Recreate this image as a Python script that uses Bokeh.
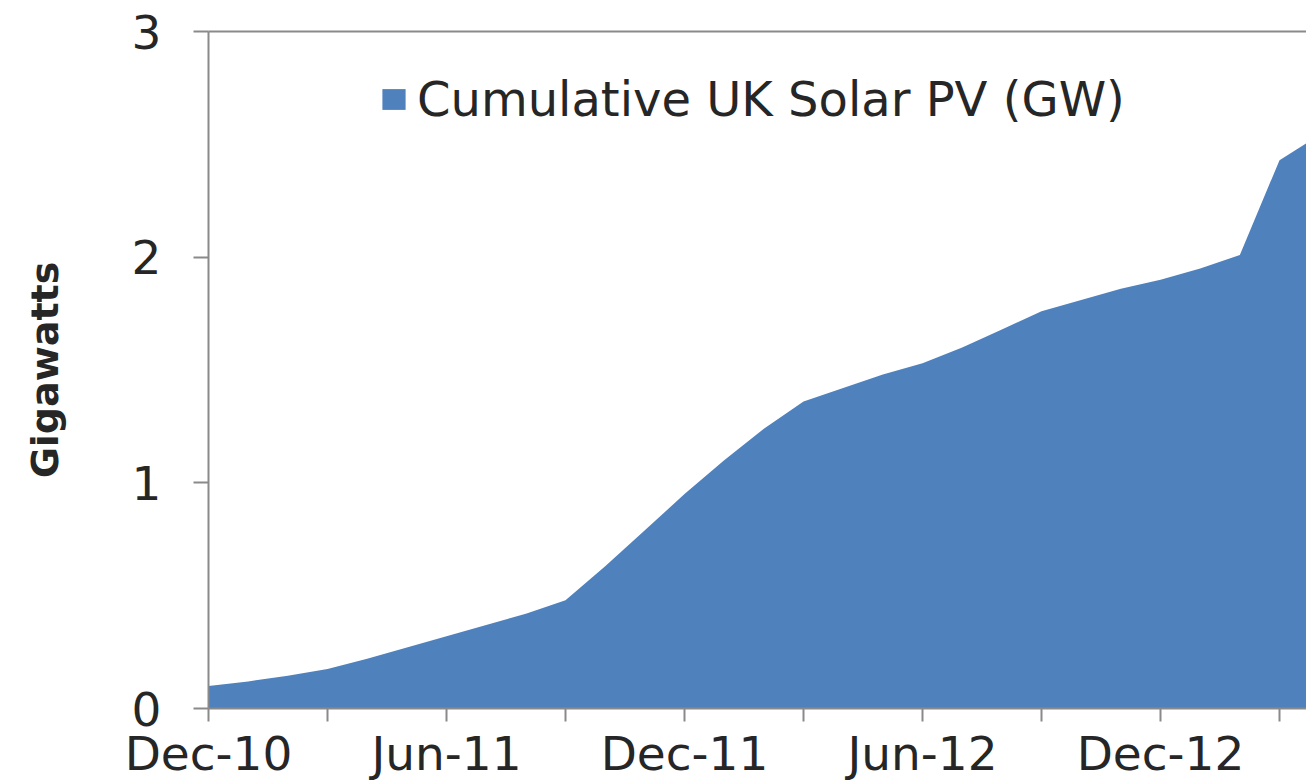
from bokeh.plotting import figure
from bokeh.models import FixedTicker, LinearAxis, ColumnDataSource, Range1d, Legend, LegendItem
from bokeh.embed import file_html
from bokeh.resources import INLINE

# ---- data ----
month_labels = ["Dec-10", "Jan-11", "Feb-11", "Mar-11", "Apr-11", "May-11", "Jun-11",
                "Jul-11", "Aug-11", "Sep-11", "Oct-11", "Nov-11", "Dec-11",
                "Jan-12", "Feb-12", "Mar-12", "Apr-12", "May-12", "Jun-12",
                "Jul-12", "Aug-12", "Sep-12", "Oct-12", "Nov-12", "Dec-12",
                "Jan-13", "Feb-13", "Mar-13", "Apr-13"]
solar_gw = [0.10, 0.12, 0.145, 0.175, 0.22, 0.27, 0.32,
            0.37, 0.42, 0.48, 0.63, 0.79, 0.95,
            1.10, 1.24, 1.36, 1.42, 1.48, 1.53,
            1.60, 1.68, 1.76, 1.81, 1.86, 1.90,
            1.95, 2.01, 2.43, 2.54]
series_name = "Cumulative UK Solar PV (GW)"
y_ticks = [0, 1, 2, 3]

month_idx = list(range(len(month_labels)))
src = ColumnDataSource(dict(x=month_idx, y=solar_gw, lab=month_labels))

AX = "#8a8a8a"
TXT = "#262626"
FONT = "DejaVu Sans"

p = figure(width=1306, height=783, output_backend="svg", toolbar_location=None,
           x_range=Range1d(0, 27.68), y_range=Range1d(0, 3),
           min_border_left=208, min_border_right=0, min_border_top=31, min_border_bottom=0)
p.background_fill_color = "white"
p.border_fill_color = "white"
p.outline_line_color = None
p.grid.visible = False

r = p.varea(x="x", y1=0, y2="y", source=src, fill_color="#4F81BD", fill_alpha=1.0)

# x axis: quarterly ticks, labels every half-year
qt = month_idx[::3]
p.xaxis.ticker = FixedTicker(ticks=qt)
p.xaxis.major_label_overrides = {i: (month_labels[i] if i % 6 == 0 else "") for i in qt}
p.xaxis.minor_tick_line_color = None
p.xaxis.major_tick_in = 0
p.xaxis.major_tick_out = 13
p.xaxis.major_tick_line_color = AX
p.xaxis.major_tick_line_width = 2
p.xaxis.axis_line_color = AX
p.xaxis.axis_line_width = 2
p.xaxis.major_label_text_font = FONT
p.xaxis.major_label_text_font_size = "47px"
p.xaxis.major_label_text_color = TXT
p.xaxis.major_label_standoff = 4

p.yaxis.ticker = FixedTicker(ticks=y_ticks)
p.yaxis.minor_tick_line_color = None
p.yaxis.major_tick_in = 0
p.yaxis.major_tick_out = 15
p.yaxis.major_tick_line_color = AX
p.yaxis.major_tick_line_width = 2
p.yaxis.axis_line_color = AX
p.yaxis.axis_line_width = 2
p.yaxis.major_label_text_font = FONT
p.yaxis.major_label_text_font_size = "47px"
p.yaxis.major_label_text_color = TXT
p.yaxis.major_label_standoff = 32
p.yaxis.axis_label = "Gigawatts"
p.yaxis.axis_label_text_font = FONT
p.yaxis.axis_label_text_font_style = "bold"
p.yaxis.axis_label_text_font_size = "38px"
p.yaxis.axis_label_text_color = TXT
p.yaxis.axis_label_standoff = 62

# top border line of plot area
top = LinearAxis(ticker=FixedTicker(ticks=[]), major_label_text_font_size="0px",
                 major_tick_line_color=None, minor_tick_line_color=None,
                 axis_line_color=AX, axis_line_width=2)
p.add_layout(top, "above")

legend = Legend(items=[LegendItem(label=series_name, renderers=[r])],
                location=(171, 581), orientation="horizontal",
                background_fill_alpha=0, border_line_color=None,
                padding=0, margin=0, glyph_width=29, glyph_height=26, label_standoff=9,
                label_text_font=FONT, label_text_font_size="48px", label_text_color=TXT)
p.add_layout(legend, "center")

open("out.html", "w").write(file_html(p, INLINE))
